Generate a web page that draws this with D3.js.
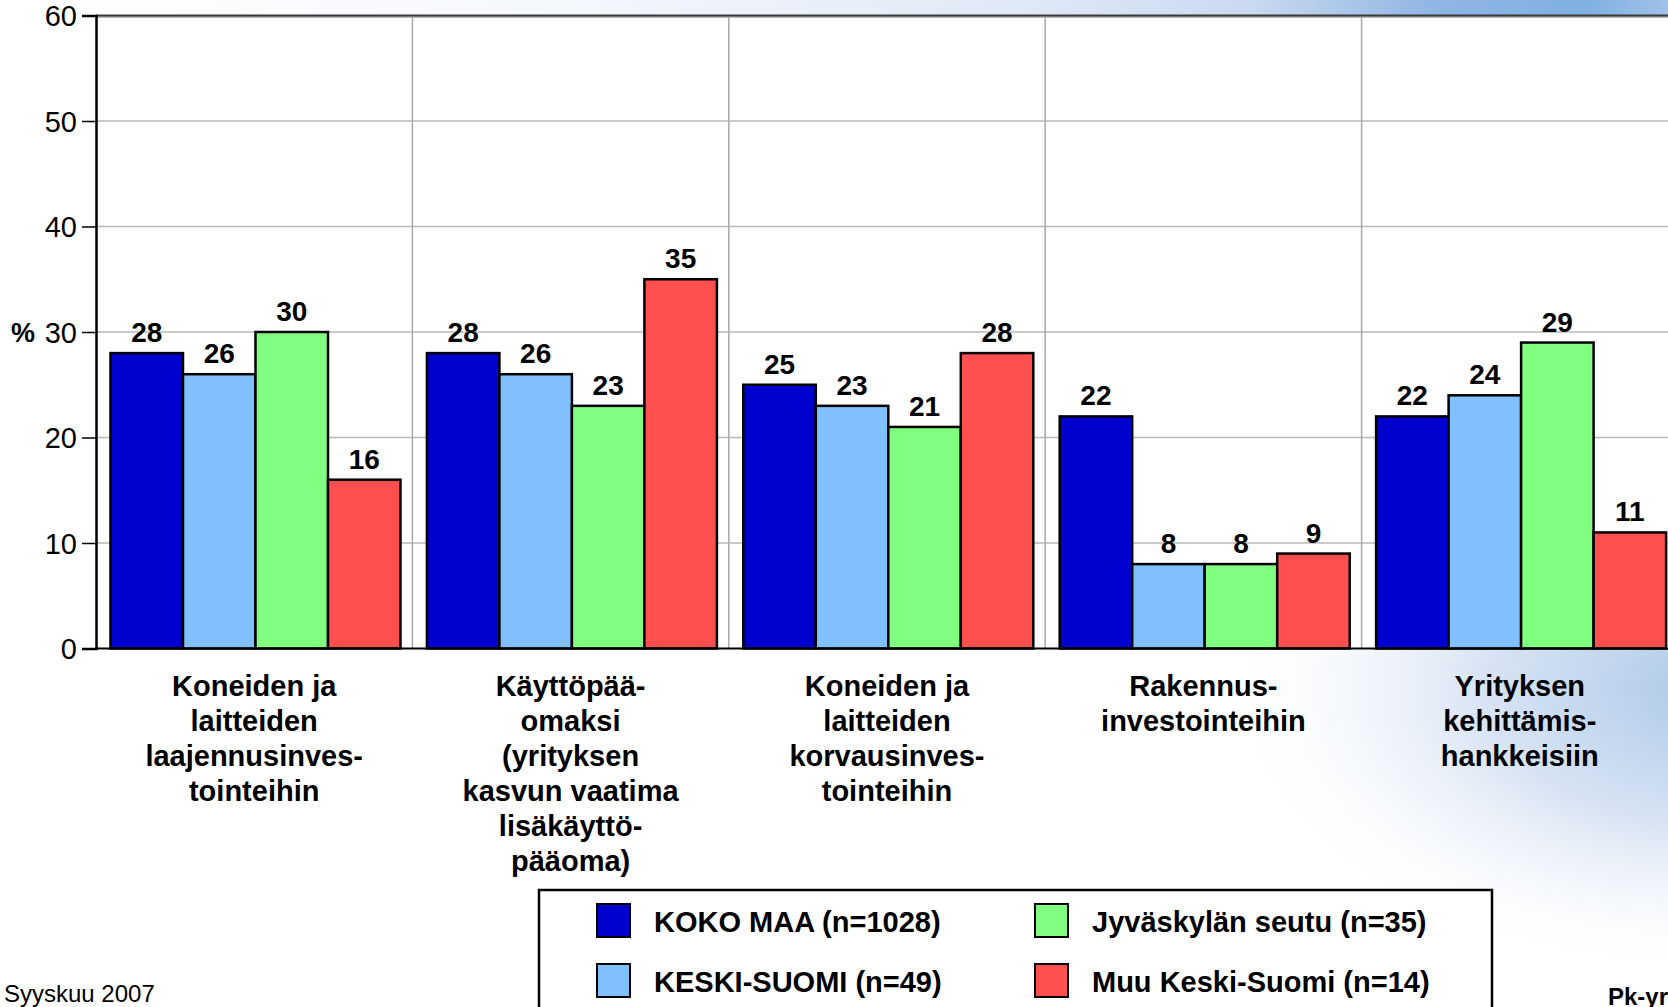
<!DOCTYPE html>
<html>
<head>
<meta charset="utf-8">
<script src="https://cdn.jsdelivr.net/npm/d3@7"></script>
<style>
  html, body { margin: 0; padding: 0; background: #ffffff; overflow: hidden; }
  svg { display: block; font-family: "Liberation Sans", Arial, Helvetica, sans-serif; }
</style>
</head>
<body>
<svg id="chart" width="1668" height="1007"></svg>
<script>
// ---- data ----
const categories = [
  "Koneiden ja laitteiden laajennusinvestointeihin",
  "Käyttöpääomaksi (yrityksen kasvun vaatima lisäkäyttöpääoma)",
  "Koneiden ja laitteiden korvausinvestointeihin",
  "Rakennusinvestointeihin",
  "Yrityksen kehittämishankkeisiin"
];
const categoryLines = [
  ["Koneiden ja", "laitteiden", "laajennusinves-", "tointeihin"],
  ["Käyttöpää-", "omaksi", "(yrityksen", "kasvun vaatima", "lisäkäyttö-", "pääoma)"],
  ["Koneiden ja", "laitteiden", "korvausinves-", "tointeihin"],
  ["Rakennus-", "investointeihin"],
  ["Yrityksen", "kehittämis-", "hankkeisiin"]
];
const seriesNames = ["KOKO MAA (n=1028)", "KESKI-SUOMI (n=49)", "Jyväskylän seutu (n=35)", "Muu Keski-Suomi (n=14)"];
const kokoMaa    = [28, 28, 25, 22, 22];
const keskiSuomi = [26, 26, 23,  8, 24];
const jyvaskyla  = [30, 23, 21,  8, 29];
const muuKS      = [16, 35, 28,  9, 11];
const seriesColors = ["#0000cf", "#80c0ff", "#80ff80", "#ff4f4f"];
const yTicks = [0, 10, 20, 30, 40, 50, 60];
const footLeft = "Syyskuu 2007";
const footRight = "Pk-yritysbarometri";

const seriesValues = [kokoMaa, keskiSuomi, jyvaskyla, muuKS];

// ---- layout ----
const svg = d3.select("#chart");
const axisX = 96;
const bandW = 316.4;
const plotRight = axisX + bandW * categories.length;

const defs = svg.append("defs");
const topGrad = defs.append("linearGradient").attr("id", "topGrad").attr("x1", "0").attr("x2", "1").attr("y1", "0").attr("y2", "0");
[[0, "#ffffff"], [0.35, "#f4f7fc"], [0.62, "#dfe8f6"], [0.75, "#cad9f0"], [0.86, "#8fb6e3"], [0.95, "#80b0e0"], [1, "#9fc2e8"]]
  .forEach(([o, c]) => topGrad.append("stop").attr("offset", o).attr("stop-color", c));
const glow = defs.append("radialGradient").attr("id", "glow").attr("cx", "0.5").attr("cy", "0.5").attr("r", "0.5");
[[0, "#a9c6e8", 1], [0.45, "#cddcf0", 0.8], [1, "#ffffff", 0]]
  .forEach(([o, c, a]) => glow.append("stop").attr("offset", o).attr("stop-color", c).attr("stop-opacity", a));

// background decoration
svg.append("rect").attr("x", 0).attr("y", 0).attr("width", 1668).attr("height", 16).attr("fill", "url(#topGrad)");
svg.append("ellipse").attr("cx", 1720).attr("cy", 690).attr("rx", 520).attr("ry", 300).attr("fill", "url(#glow)");

const y = d3.scaleLinear().domain([0, 60]).range([648.5, 15.5]);
const x0 = d3.scaleBand().domain(categories).range([axisX, plotRight]).paddingInner(0).paddingOuter(0);
const x1 = d3.scaleBand().domain(seriesNames).range([14.5, 304.5]).padding(0);

// plot area
svg.append("rect").attr("x", axisX).attr("y", y(60)).attr("width", plotRight - axisX).attr("height", y(0) - y(60)).attr("fill", "#ffffff");

// horizontal grid
svg.append("g").selectAll("line").data(yTicks.filter(t => t > 0 && t < 60)).join("line")
  .attr("x1", axisX).attr("x2", plotRight)
  .attr("y1", d => y(d)).attr("y2", d => y(d))
  .attr("stroke", "#b8b8b8").attr("stroke-width", 1.5);

// vertical grid at band boundaries
svg.append("g").selectAll("line").data(categories.slice(1)).join("line")
  .attr("x1", d => x0(d)).attr("x2", d => x0(d))
  .attr("y1", y(60)).attr("y2", y(0))
  .attr("stroke", "#a8a8a8").attr("stroke-width", 1.5);

// top border
svg.append("line").attr("x1", axisX).attr("x2", plotRight).attr("y1", y(60) + 1.5).attr("y2", y(60) + 1.5)
  .attr("stroke", "#a0a0a0").attr("stroke-width", 1.5);
svg.append("line").attr("x1", axisX).attr("x2", plotRight).attr("y1", y(60)).attr("y2", y(60))
  .attr("stroke", "#3a3a3a").attr("stroke-width", 2);

// bars
const groups = svg.append("g").selectAll("g").data(categories).join("g")
  .attr("transform", d => `translate(${x0(d)},0)`);
groups.selectAll("rect").data((d, i) => seriesNames.map((s, j) => ({ s, j, v: seriesValues[j][i] }))).join("rect")
  .attr("x", d => x1(d.s)).attr("width", x1.bandwidth())
  .attr("y", d => y(d.v)).attr("height", d => y(0) - y(d.v))
  .attr("fill", d => seriesColors[d.j])
  .attr("stroke", "#000").attr("stroke-width", 2.5);
groups.selectAll("text").data((d, i) => seriesNames.map((s, j) => ({ s, j, v: seriesValues[j][i] }))).join("text")
  .attr("x", d => x1(d.s) + x1.bandwidth() / 2)
  .attr("y", d => y(d.v) - 11)
  .attr("text-anchor", "middle")
  .attr("font-size", 28).attr("font-weight", "bold").attr("fill", "#000")
  .text(d => d.v);

// x axis line
svg.append("line").attr("x1", axisX).attr("x2", plotRight).attr("y1", y(0)).attr("y2", y(0))
  .attr("stroke", "#000").attr("stroke-width", 2);

// y axis
const yAxis = d3.axisLeft(y).tickValues(yTicks).tickSize(14).tickPadding(5).tickFormat(d3.format("d"));
const yg = svg.append("g").attr("transform", `translate(${axisX},0)`).call(yAxis);
yg.select(".domain").attr("stroke", "#000").attr("stroke-width", 2.5);
yg.selectAll(".tick line").attr("stroke", "#000").attr("stroke-width", 1.5);
yg.selectAll(".tick text").attr("font-size", 29).attr("font-family", "'Liberation Sans', Arial, sans-serif")
  .attr("fill", "#000").attr("dy", "0.36em");
svg.append("text").attr("x", 11).attr("y", y(30) + 10).attr("font-size", 27).attr("font-weight", "bold").text("%");

// category labels
const catG = svg.append("g").selectAll("text").data(categories).join("text")
  .attr("text-anchor", "middle").attr("font-size", 29).attr("font-weight", "bold").attr("fill", "#000");
catG.each(function (d, i) {
  const t = d3.select(this);
  categoryLines[i].forEach((line, k) => {
    t.append("tspan").attr("x", x0(d) + x0.bandwidth() / 2).attr("y", 696 + k * 35).text(line);
  });
});

// legend
const lg = svg.append("g");
lg.append("rect").attr("x", 539).attr("y", 890).attr("width", 953).attr("height", 140)
  .attr("fill", "#fff").attr("stroke", "#000").attr("stroke-width", 2.5);
const legendPos = [[597, 904], [597, 964], [1035, 904], [1035, 964]];
seriesNames.forEach((s, j) => {
  const [lx, ly] = legendPos[j];
  lg.append("rect").attr("x", lx).attr("y", ly).attr("width", 33).attr("height", 33)
    .attr("fill", seriesColors[j]).attr("stroke", "#000").attr("stroke-width", 2);
  lg.append("text").attr("x", lx + 57).attr("y", ly + 28).attr("font-size", 29).attr("font-weight", "bold").text(s);
});

// footers
svg.append("text").attr("x", 4).attr("y", 1002).attr("font-size", 24).attr("fill", "#000").text(footLeft);
svg.append("text").attr("x", 1608).attr("y", 1005).attr("font-size", 24).attr("font-weight", "bold").attr("fill", "#000").text(footRight);
</script>
</body>
</html>
